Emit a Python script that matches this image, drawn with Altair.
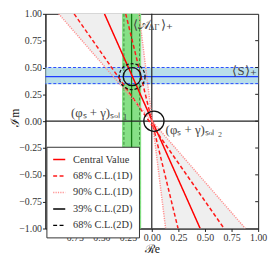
import altair as alt
import pandas as pd

# ---- data ----
x_ticks = [-0.75, -0.5, -0.25, 0.0, 0.25, 0.5, 0.75, 1.0]
y_ticks = [-1.0, -0.75, -0.5, -0.25, 0.0, 0.25, 0.5, 0.75, 1.0]

# red lines: x at y=+1 (top) and x at y=-1 (bottom)
red_series = ["Central Value", "68% C.L.(1D)", "68% C.L.(1D)", "90% C.L.(1D)", "90% C.L.(1D)"]
red_ids = ["c", "d1", "d2", "p1", "p2"]
red_x_top = [-0.445, -0.73, -0.245, -0.875, -0.12]
red_x_bot = [0.455, 0.68, 0.247, 0.88, 0.13]

legend_names = ["Central Value", "68% C.L.(1D)", "90% C.L.(1D)", "39% C.L.(2D)", "68% C.L.(2D)"]
legend_colors = ["#ff0000", "#ff1a1a", "#ff9090", "#000000", "#000000"]
legend_dash = [[1, 0], [4, 2.5], [1.2, 1.2], [1, 0], [4, 2.5]]

# A_ΔΓ band (vertical, green)
green_fill = [-0.28, -0.10]
green_edges = [-0.262, -0.115]
green_center = [-0.19]

# S band (horizontal, blue)
blue_fill = [0.345, 0.50]
blue_edges = [0.35, 0.50]
blue_center = [0.415]

# 2D solutions (circles)
circ_x = [-0.185, -0.185, 0.02]
circ_y = [0.415, 0.415, 0.0]
circ_kind = ["solid", "dashed", "solid"]
circ_size = [330, 690, 420]

W, H = 216, 218
FONT = "Liberation Serif"

xs = alt.Scale(domain=[-1, 1], nice=False, zero=False)
ys = alt.Scale(domain=[-1, 1], nice=False, zero=False)
xaxis = alt.Axis(values=x_ticks, format=".2f", labelOverlap=False, labelFlush=False,
                 grid=False, tickSize=3, labelPadding=1,
                 titleX=W / 2, titleY=20, titleBaseline="middle", titleAlign="center")
yaxis = alt.Axis(values=y_ticks, format=".2f", grid=False, tickSize=3, labelPadding=1,
                 titleX=-31, titleY=H / 2 - 4, titleAngle=-90,
                 titleBaseline="middle", titleAlign="center")


def X(f):
    return alt.X(f, scale=xs, title="ℛe", axis=xaxis)


def Y(f):
    return alt.Y(f, scale=ys, title="ℐm", axis=yaxis)


# red lines table
rows = []
for s, i, xt, xb in zip(red_series, red_ids, red_x_top, red_x_bot):
    rows.append({"series": s, "id": i, "x": xt, "y": 1.0})
    rows.append({"series": s, "id": i, "x": xb, "y": -1.0})
red_df = pd.DataFrame(rows)

# gray wedge between the two 90% lines (crossing point from the two lines)
a_top, a_bot = red_x_top[3], red_x_bot[3]
b_top, b_bot = red_x_top[4], red_x_bot[4]
midA, halfA = (a_top + a_bot) / 2, (a_top - a_bot) / 2
midB, halfB = (b_top + b_bot) / 2, (b_top - b_bot) / 2
yc = (midB - midA) / (halfA - halfB)
xc = midA + halfA * yc
wedge_df = pd.DataFrame({
    "y": [1.0, yc, -1.0],
    "x": [a_top, xc, b_bot],
    "x2": [b_top, xc, a_bot],
})

wedge = alt.Chart(wedge_df).mark_area(orient="horizontal", color="#efefef", clip=True).encode(
    y=Y("y:Q"), x=X("x:Q"), x2="x2:Q"
)

green_rect = alt.Chart(pd.DataFrame({"x": [green_fill[0]], "x2": [green_fill[1]], "y": [-1.0], "y2": [1.0]})).mark_rect(
    color="#86e086").encode(x=X("x:Q"), x2="x2:Q", y=Y("y:Q"), y2="y2:Q")
blue_rect = alt.Chart(pd.DataFrame({"y": [blue_fill[0]], "y2": [blue_fill[1]], "x": [-1.0], "x2": [1.0]})).mark_rect(
    color="#add8e6", opacity=0.85).encode(x=X("x:Q"), x2="x2:Q", y=Y("y:Q"), y2="y2:Q")

green_dash = alt.Chart(pd.DataFrame({"x": green_edges})).mark_rule(
    color="#3c8c3c", strokeDash=[3, 2], strokeWidth=1).encode(x=X("x:Q"))
green_line = alt.Chart(pd.DataFrame({"x": green_center})).mark_rule(
    color="#127a12", strokeWidth=1.3).encode(x=X("x:Q"))
blue_dash = alt.Chart(pd.DataFrame({"y": blue_edges})).mark_rule(
    color="#2a4cff", strokeDash=[3, 2], strokeWidth=1).encode(y=Y("y:Q"))
blue_line = alt.Chart(pd.DataFrame({"y": blue_center})).mark_rule(
    color="#1f3cff", strokeWidth=1.4).encode(y=Y("y:Q"))

zero_v = alt.Chart(pd.DataFrame({"x": [0.0]})).mark_rule(color="#222222", strokeWidth=1.2).encode(x=X("x:Q"))
zero_h = alt.Chart(pd.DataFrame({"y": [0.0]})).mark_rule(color="#222222", strokeWidth=1.2).encode(y=Y("y:Q"))

leg = alt.Legend(title=None, orient="none", legendX=1, legendY=135,
                 symbolType="stroke", symbolSize=150, symbolStrokeWidth=1.5,
                 labelFont=FONT, labelFontSize=10.5, labelColor="#333",
                 fillColor="white", strokeColor="#333", padding=6,
                 rowPadding=3.7, labelOffset=7, cornerRadius=0)

red = alt.Chart(red_df).mark_line(strokeWidth=1.5, clip=True).encode(
    x=X("x:Q"),
    y=Y("y:Q"),
    detail="id:N",
    color=alt.Color("series:N", scale=alt.Scale(domain=legend_names, range=legend_colors), legend=leg),
    strokeDash=alt.StrokeDash("series:N", scale=alt.Scale(domain=legend_names, range=legend_dash), legend=leg),
)

circ_df = pd.DataFrame({"x": circ_x, "y": circ_y, "kind": circ_kind, "size": circ_size})
circ_solid = alt.Chart(circ_df[circ_df.kind == "solid"]).mark_point(
    shape="circle", filled=False, color="#111111", strokeWidth=1.3, opacity=1).encode(
    x=X("x:Q"), y=Y("y:Q"), size=alt.Size("size:Q", scale=None, legend=None))
circ_dash = alt.Chart(circ_df[circ_df.kind == "dashed"]).mark_point(
    shape="circle", filled=False, color="#111111", strokeWidth=1.3, strokeDash=[3, 2], opacity=1).encode(
    x=X("x:Q"), y=Y("y:Q"), size=alt.Size("size:Q", scale=None, legend=None))

# labels
lab_text = ["(φₛ + γ)ₛₒₗ ₁", "(φₛ + γ)ₛₒₗ ₂", "⟨S⟩₊"]
lab_x = [-0.76, 0.13, 0.985]
lab_y = [0.08, -0.08, 0.47]
lab_align = ["left", "left", "right"]
texts = []
for t, x, y, a in zip(lab_text, lab_x, lab_y, lab_align):
    texts.append(alt.Chart(pd.DataFrame({"x": [x], "y": [y], "t": [t]})).mark_text(
        align=a, baseline="middle", font=FONT, fontSize=13, color="#444").encode(
        x=X("x:Q"), y=Y("y:Q"), text="t:N"))

a_x, a_y = [-0.178], [0.9]
a_parts = ["⟨𝒜", "ΔΓ", "⟩₊"]
a_dx = [0, 16, 29]
a_dy = [0, 3, 0]
a_fs = [13, 9, 13]
for t, dx, dy, fs in zip(a_parts, a_dx, a_dy, a_fs):
    texts.append(alt.Chart(pd.DataFrame({"x": a_x, "y": a_y, "t": [t]})).mark_text(
        align="left", baseline="middle", font=FONT, fontSize=fs, color="#444", dx=dx, dy=dy).encode(
        x=X("x:Q"), y=Y("y:Q"), text="t:N"))

right_ticks = alt.Chart(pd.DataFrame({"y": y_ticks[1:-1]})).mark_rule(color="#222", strokeWidth=1).encode(
    y=Y("y:Q"), x=alt.value(W - 3), x2=alt.value(W))

layers = [wedge, green_rect, blue_rect, green_dash, green_line, blue_dash, blue_line,
          zero_v, zero_h, red, circ_dash, circ_solid, right_ticks] + texts

chart = alt.layer(*layers).resolve_scale(size="independent").properties(
    width=W, height=H,
    autosize=alt.AutoSizeParams(type="none"),
    padding={"left": 38, "top": 4, "right": 10, "bottom": 27},
).configure_axis(
    labelFont=FONT, labelFontSize=10, labelColor="#333",
    titleFont=FONT, titleFontSize=12, titleFontWeight="normal", titleColor="#222",
    domainColor="#222", tickColor="#222",
).configure_view(stroke="#222", strokeWidth=1)

chart.save("out.html", embed_options={"renderer": "svg", "actions": False})
